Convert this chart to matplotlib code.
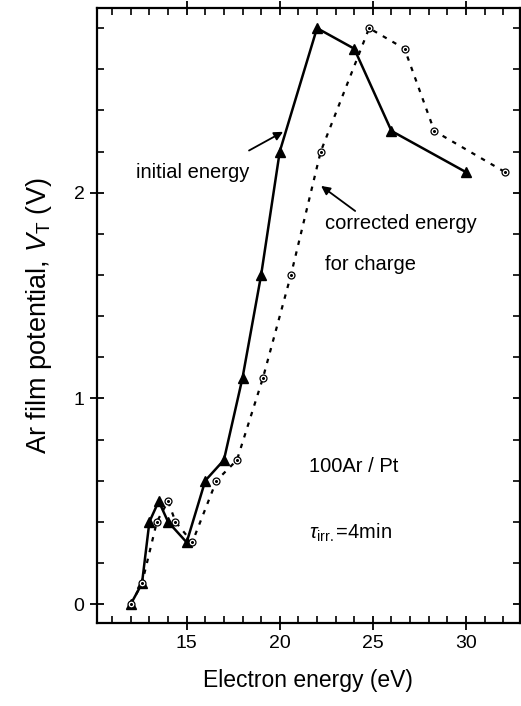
import numpy as np
import matplotlib
matplotlib.use('Agg')
import matplotlib.pyplot as plt
from matplotlib.ticker import MultipleLocator

plt.rcParams['font.family'] = ['Liberation Sans', 'DejaVu Sans']
plt.rcParams['mathtext.fontset'] = 'custom'
plt.rcParams['mathtext.it'] = 'Liberation Sans:italic'
plt.rcParams['mathtext.rm'] = 'Liberation Sans'

# initial energy (triangles)
e_init = [12.0, 12.6, 13.0, 13.5, 14.0, 15.0, 16.0, 17.0, 18.0, 19.0, 20.0, 22.0, 24.0, 26.0, 30.0]
v_init = [0.0, 0.1, 0.4, 0.5, 0.4, 0.3, 0.6, 0.7, 1.1, 1.6, 2.2, 2.8, 2.7, 2.3, 2.1]

# corrected energy for charge (circles)
e_corr = [12.0, 12.6, 13.4, 14.0, 14.4, 15.3, 16.6, 17.7, 19.1, 20.6, 22.2, 24.8, 26.7, 28.3, 32.1]
v_corr = [0.0, 0.1, 0.4, 0.5, 0.4, 0.3, 0.6, 0.7, 1.1, 1.6, 2.2, 2.8, 2.7, 2.3, 2.1]

fig = plt.figure(figsize=(5.21, 7.06), dpi=100)
ax = fig.add_axes([0.186, 0.1176, 0.812, 0.8711])

ax.plot(e_init, v_init, '-', color='black', lw=1.8, marker='^', ms=7,
        mfc='black', mec='black')
ax.plot(e_corr, v_corr, color='black', lw=1.6, ls=(0, (2, 3)),
        marker='o', ms=5, mfc='white', mec='black', mew=0.9)
ax.plot(e_corr, v_corr, ls='none', marker='o', ms=1.2, color='black')

ax.set_xlim(10.18, 32.9)
ax.set_ylim(-0.092, 2.898)
ax.xaxis.set_major_locator(MultipleLocator(5))
ax.xaxis.set_minor_locator(MultipleLocator(1))
ax.yaxis.set_major_locator(MultipleLocator(1))
ax.yaxis.set_minor_locator(MultipleLocator(0.2))
ax.tick_params(which='major', direction='inout', length=10, width=1.3,
               top=True, right=True, labelsize=14, pad=4)
ax.tick_params(which='minor', direction='in', length=5, width=1.2,
               top=True, right=True)
for s in ax.spines.values():
    s.set_linewidth(1.6)

ax.set_xlabel('Electron energy (eV)', fontsize=16.5, labelpad=12)
ax.set_ylabel(r'Ar film potential, $V_\mathrm{T}$ (V)', fontsize=19.5, labelpad=14)

arrow = dict(arrowstyle='-|>', color='black', lw=1.3,
             shrinkA=0, shrinkB=0, mutation_scale=13)
ax.annotate('', xy=(20.18, 2.296), xytext=(18.35, 2.205), arrowprops=arrow)
ax.annotate('', xy=(22.22, 2.033), xytext=(24.05, 1.911), arrowprops=arrow)

ax.text(12.27, 2.10, 'initial energy', fontsize=14.5, va='center', ha='left')
ax.text(22.44, 1.848, 'corrected energy', fontsize=14.5, va='center', ha='left')
ax.text(22.44, 1.649, 'for charge', fontsize=14.5, va='center', ha='left')
ax.text(21.58, 0.671, '100Ar / Pt', fontsize=14.5, va='center', ha='left')
ax.text(21.58, 0.345, r'$\tau_{\mathrm{irr.}}$=4min', fontsize=14.5, va='center', ha='left')

fig.savefig('out.png', dpi=100)
